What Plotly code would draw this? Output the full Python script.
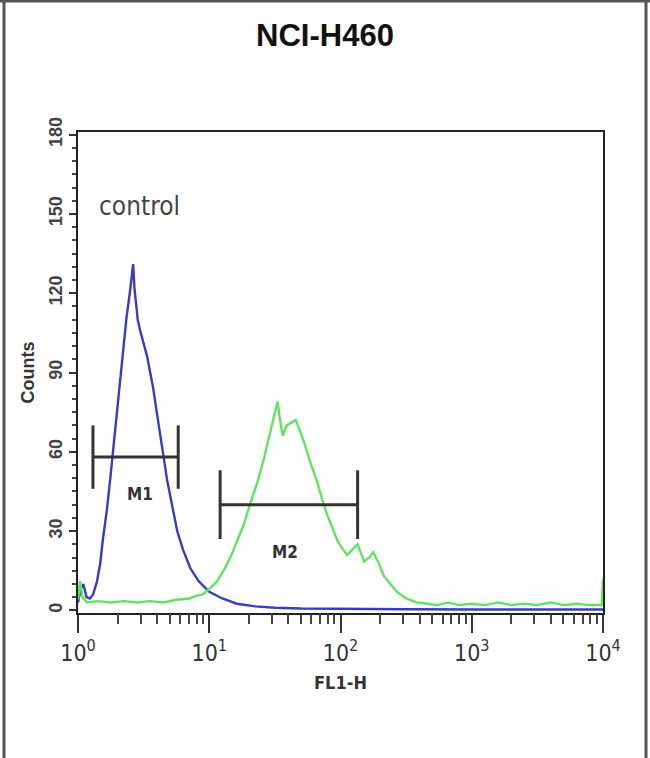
import numpy as np
import plotly.graph_objects as go

# ---- data ----
blue_log10_fl1 = [0.0, 0.02, 0.04, 0.065, 0.09, 0.115, 0.145, 0.17, 0.19, 0.22, 0.244, 0.27, 0.298, 0.32,
                  0.344, 0.37, 0.397, 0.41, 0.42, 0.43, 0.44, 0.455, 0.473, 0.5, 0.527, 0.55, 0.573, 0.6,
                  0.626, 0.65, 0.68, 0.72, 0.756, 0.8, 0.855, 0.92, 1.0, 1.1, 1.21, 1.35, 1.5, 1.7, 2.0,
                  2.5, 3.0, 3.5, 4.0]
blue_counts = [3, 8, 10, 5, 4.5, 6, 11, 18, 27, 38, 49, 62, 74, 86,
               99, 111, 121, 126, 131, 122, 116, 110, 106, 101, 96, 90, 84, 75,
               66, 58, 49, 39, 30, 23, 16, 11, 7, 4.5, 2.5, 1.5, 1, 0.7, 0.5,
               0.4, 0.3, 0.3, 0.3]

green_log10_fl1 = [0.0, 0.015, 0.035, 0.07, 0.15, 0.25, 0.35, 0.45, 0.55, 0.65, 0.75, 0.85, 0.9, 0.95,
                   1.0, 1.06, 1.12, 1.17, 1.21, 1.26, 1.31, 1.37, 1.42, 1.47, 1.5, 1.52, 1.54, 1.56,
                   1.59, 1.62, 1.66, 1.69, 1.72, 1.77, 1.82, 1.86, 1.9, 1.94, 1.98, 2.02, 2.05, 2.09,
                   2.13, 2.16, 2.18, 2.22, 2.25, 2.29, 2.33, 2.38, 2.43, 2.5, 2.58, 2.66, 2.74, 2.82,
                   2.9, 3.0, 3.1, 3.2, 3.3, 3.4, 3.5, 3.6, 3.7, 3.8, 3.9, 3.99, 4.0]
green_counts = [4, 11, 5, 3, 3.5, 3, 3.5, 3, 3.5, 3, 4, 4.5, 5.5, 6,
                8, 11, 16, 21, 26, 32, 40, 49, 58, 69, 75, 79, 72, 66,
                70, 71, 72, 68, 64, 56, 49, 42, 36, 31, 26, 23, 21, 23,
                25, 21, 18.5, 20, 22, 18, 13, 10, 7, 4.5, 3, 2.5, 2, 3,
                2, 2.5, 2, 3, 2, 2.5, 2, 3, 2, 2.5, 2, 2, 12]

# marker gates
gate_names = ["M1", "M2"]
gate_start = [1.3, 12.1]
gate_end = [5.8, 135]
gate_level = [58, 40]
gate_bar_low = [46, 27]
gate_bar_high = [70, 53]
gate_label_x = [2.96, 38]
gate_label_y = [44, 22]

y_ticks = [0, 30, 60, 90, 120, 150, 180]
x_ticks = [1, 10, 100, 1000, 10000]
x_ticktext = ["10<sup>0</sup>", "10<sup>1</sup>", "10<sup>2</sup>", "10<sup>3</sup>", "10<sup>4</sup>"]
x_minor_ticks = [m * d for d in (1, 10, 100, 1000) for m in range(2, 10)]

blue_x = np.power(10.0, blue_log10_fl1)
green_x = np.power(10.0, green_log10_fl1)

NARROW = "DejaVu Sans Condensed, Liberation Sans Narrow, Arial Narrow, sans-serif"

fig = go.Figure()
fig.add_trace(go.Scatter(x=blue_x, y=blue_counts, mode="lines",
                         line=dict(color="#3a3ac4", width=2.4), showlegend=False))
fig.add_trace(go.Scatter(x=green_x, y=green_counts, mode="lines",
                         line=dict(color="#62e262", width=2.4), showlegend=False))
# invisible trace that carries the minor-tick axis
fig.add_trace(go.Scatter(x=[1], y=[0], xaxis="x2", mode="markers", marker=dict(opacity=0),
                         hoverinfo="skip", showlegend=False))

gate_color = "#333333"
for i in range(len(gate_names)):
    fig.add_trace(go.Scatter(x=[gate_start[i], gate_end[i]], y=[gate_level[i], gate_level[i]],
                             mode="lines", line=dict(color=gate_color, width=3), showlegend=False))
    for xv in (gate_start[i], gate_end[i]):
        fig.add_trace(go.Scatter(x=[xv, xv], y=[gate_bar_low[i], gate_bar_high[i]],
                                 mode="lines", line=dict(color=gate_color, width=3), showlegend=False))
    fig.add_annotation(x=np.log10(gate_label_x[i]), y=gate_label_y[i], text="<b>" + gate_names[i] + "</b>",
                       showarrow=False, font=dict(family=NARROW, size=17, color="#333333"))

fig.add_annotation(x=np.log10(2.92), y=153, text="control", showarrow=False,
                   font=dict(family=NARROW, size=26, color="#444444"))

W, H = 650, 758
ml, mr, mt, mb = 78, 47, 132, 145
pw, ph = W - ml - mr, H - mt - mb

def px_to_paper_x(px):
    return (px - ml) / pw

def px_to_paper_y(py):
    return (H - mb - py) / ph

# outer frame of the image
border = dict(color="#555555", width=3)
fig.add_shape(type="line", xref="paper", yref="paper", x0=px_to_paper_x(4), x1=px_to_paper_x(4),
              y0=px_to_paper_y(0), y1=px_to_paper_y(H), line=border)
fig.add_shape(type="line", xref="paper", yref="paper", x0=px_to_paper_x(0), x1=px_to_paper_x(W),
              y0=px_to_paper_y(1), y1=px_to_paper_y(1), line=border)
fig.add_shape(type="line", xref="paper", yref="paper", x0=px_to_paper_x(646), x1=px_to_paper_x(646),
              y0=px_to_paper_y(0), y1=px_to_paper_y(H), line=border)

fig.update_layout(
    width=W, height=H,
    margin=dict(l=ml, r=mr, t=mt, b=mb),
    paper_bgcolor="white", plot_bgcolor="white",
    title=dict(text="<b>NCI-H460</b>", x=0.5, xanchor="center", y=1 - 35 / H, yanchor="middle",
               font=dict(family="Liberation Sans, Arial, sans-serif", size=31, color="#111111")),
    font=dict(family="Liberation Sans, Arial, sans-serif", color="#333333"),
    xaxis2=dict(type="log", range=[0, 4], overlaying="x", anchor="y", side="bottom",
                tickmode="array", tickvals=x_minor_ticks, ticks="outside", ticklen=10, tickwidth=2,
                tickcolor="#444444", showticklabels=False, showline=False, showgrid=False, zeroline=False),
)
fig.layout.xaxis.update(type="log", range=[0, 4], showgrid=False, zeroline=False,
                 showline=True, linecolor="#222222", linewidth=2, mirror=True,
                 ticks="outside", ticklen=18, tickwidth=2, tickcolor="#333333",
                 tickvals=x_ticks, ticktext=x_ticktext, tickfont=dict(family=NARROW, size=23, color="#333333"),
                 title=dict(text="<b>FL1-H</b>", font=dict(family=NARROW, size=18, color="#333333"), standoff=12))
fig.update_yaxes(range=[-1, 181], showgrid=False, zeroline=False,
                 showline=True, linecolor="#222222", linewidth=2, mirror=True,
                 ticks="outside", ticklen=7, tickwidth=2, tickcolor="#333333",
                 tickvals=y_ticks, tickangle=-90,
                 tickfont=dict(family="Liberation Sans, Arial, sans-serif", size=18, color="#444444", weight="bold"),
                 minor=dict(dtick=5, ticks="outside", ticklen=4, tickwidth=2, tickcolor="#444444", showgrid=False),
                 title=dict(text="<b>Counts</b>", font=dict(size=18, color="#333333"), standoff=6))

fig.write_html("out.html", config={"displayModeBar": False},
               post_script="document.body.style.margin='0';document.body.style.overflow='hidden';")
